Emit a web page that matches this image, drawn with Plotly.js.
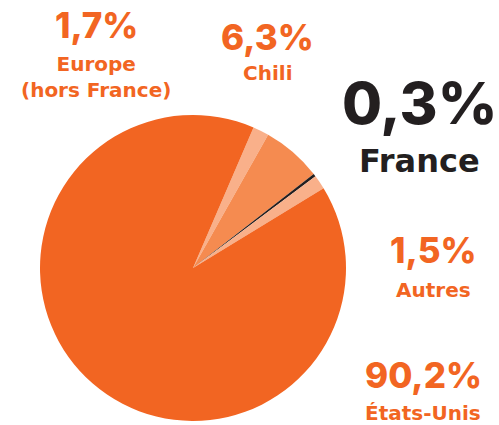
<!DOCTYPE html>
<html><head><meta charset="utf-8">
<script src="https://cdn.plot.ly/plotly-3.0.1.min.js"></script>
<style>html,body{margin:0;padding:0;background:#fff}#chart{width:499px;height:425px}</style>
</head><body><div id="chart"></div>
<script>
const labels = ["Europe (hors France)", "Chili", "France", "Autres", "États-Unis"];
const values = [1.7, 6.3, 0.3, 1.5, 90.2];
const pctText = ["1,7%", "6,3%", "0,3%", "1,5%", "90,2%"];
const nameText = ["Europe<br>(hors France)", "Chili", "France", "Autres", "États-Unis"];
const colors = ["#F9B08A", "#F58B50", "#231F20", "#F9B08A", "#F26522"];
const textColors = ["#F26522", "#F26522", "#231F20", "#F26522", "#F26522"];

// label placement (pixel centres) and sizes
const pos = [
  {x: 96, yp: 25, yn: 77, ps: 35, ns: 20},
  {x: 267, yp: 37, yn: 73, ps: 35, ns: 20},
  {x: 419, yp: 103, yn: 161, ps: 58, ns: 32},
  {x: 433, yp: 250, yn: 290, ps: 35, ns: 20},
  {x: 423, yp: 375, yn: 413, ps: 35, ns: 20}
];
const W = 499, H = 425;
const annotations = [];
labels.forEach((l, i) => {
  const p = pos[i];
  annotations.push({xref:'paper', yref:'paper', x:p.x/W, y:1 - p.yp/H, xanchor:'center', yanchor:'middle',
    text: pctText[i], showarrow:false, font:{family:'Inter, sans-serif', size:p.ps, weight:800, color:textColors[i]}});
  annotations.push({xref:'paper', yref:'paper', x:p.x/W, y:1 - p.yn/H, xanchor:'center', yanchor:'middle',
    text: nameText[i], showarrow:false, font:{family:'DejaVu Sans, sans-serif', size:p.ns, weight:700, color:textColors[i]}});
});

Plotly.newPlot('chart', [{
  type:'pie', labels: labels, values: values, sort:false, direction:'clockwise', rotation: 23.3,
  marker:{colors: colors, line:{width:0}}, textinfo:'none', hoverinfo:'none',
  domain:{x:[40/499, 346/499], y:[4/425, 310/425]}
}], {
  width:499, height:425, margin:{l:0,r:0,t:0,b:0}, showlegend:false,
  paper_bgcolor:'#fff', annotations: annotations
}, {staticPlot:true});
</script></body></html>
